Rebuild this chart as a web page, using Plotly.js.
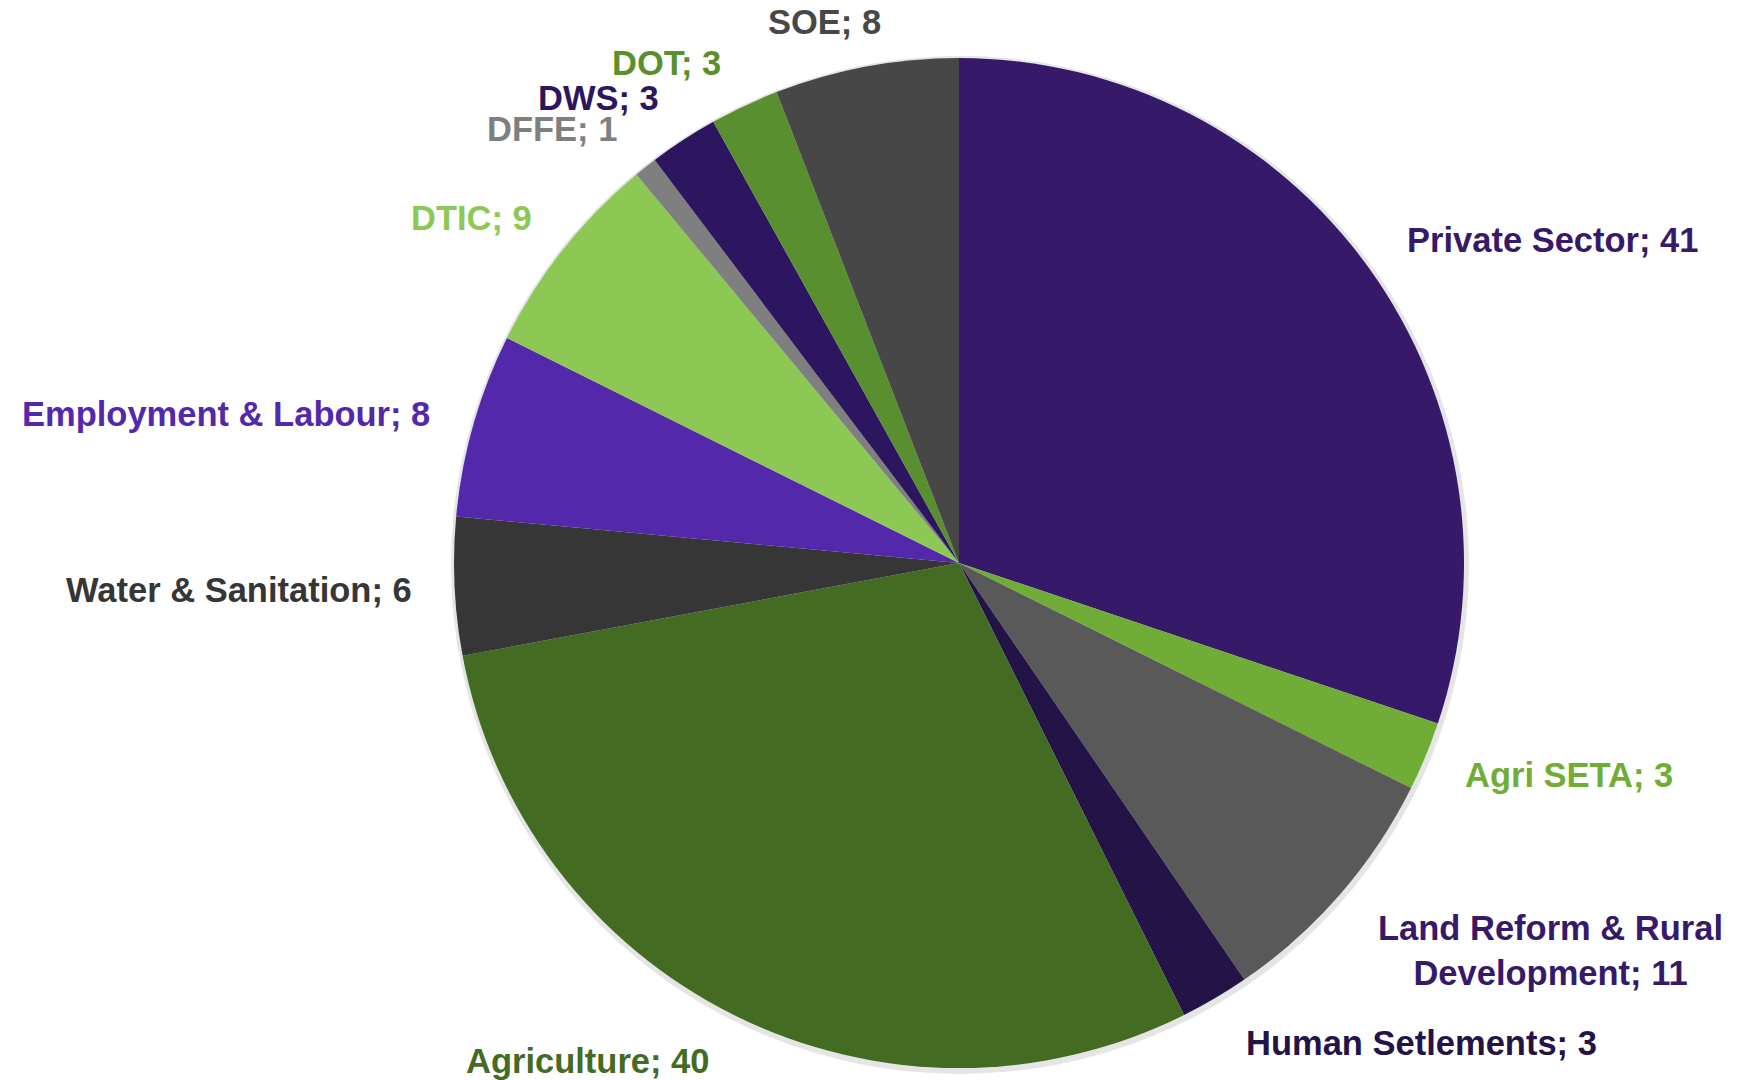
<!DOCTYPE html>
<html>
<head>
<meta charset="utf-8">
<script src="https://cdn.plot.ly/plotly-3.0.1.min.js"></script>
<style>html,body{margin:0;padding:0;background:#fff;}#chart{width:1742px;height:1080px;}</style>
</head>
<body>
<div id="chart"></div>
<script>
// Data
const categories = ["Private Sector", "Agri SETA", "Land Reform & Rural Development", "Human Setlements", "Agriculture", "Water & Sanitation", "Employment & Labour", "DTIC", "DFFE", "DWS", "DOT", "SOE"];
const values = [41, 3, 11, 3, 40, 6, 8, 9, 1, 3, 3, 8];
const labelTexts = ["Private Sector; 41", "Agri SETA; 3", "Land Reform & Rural<br>Development; 11", "Human Setlements; 3", "Agriculture; 40", "Water & Sanitation; 6", "Employment & Labour; 8", "DTIC; 9", "DFFE; 1", "DWS; 3", "DOT; 3", "SOE; 8"];

// Styles
const sliceColors = ["#371969", "#6FAD36", "#595959", "#231347", "#446B22", "#363636", "#5428AB", "#8DC855", "#7F7F7F", "#2C1660", "#5A8F2F", "#474747"];
const labelColors = ["#371969", "#6FAD36", "#371969", "#231347", "#446B22", "#363636", "#5428AB", "#8DC855", "#7F7F7F", "#2C1660", "#5A8F2F", "#474747"];
// label centers in pixels (layout only)
const labelPx = [[1552, 240], [1569, 775], [1550, 950], [1421, 1043], [587, 1061], [239, 590], [226, 414], [471, 218], [552, 129], [598, 98], [666, 63], [824, 22]];

const W = 1742, H = 1080;
const cx = 959, cy = 563, R = 505;

const trace = {
  type: 'pie',
  labels: categories,
  values: values,
  sort: false,
  direction: 'clockwise',
  rotation: 0,
  textinfo: 'none',
  hoverinfo: 'label+value',
  marker: {colors: sliceColors, line: {width: 0}},
  domain: {x: [(cx - R) / W, (cx + R) / W], y: [(H - cy - R) / H, (H - cy + R) / H]},
  showlegend: false
};

const shadow = {
  type: 'pie',
  values: [1],
  labels: ['shadow'],
  sort: false,
  textinfo: 'none',
  hoverinfo: 'skip',
  marker: {colors: ['rgba(0,0,0,0.10)'], line: {width: 0}},
  domain: {x: [(cx - R - 3) / W, (cx + R + 5) / W], y: [(H - cy - R - 6) / H, (H - cy + R + 2) / H]},
  showlegend: false
};

const annotations = labelTexts.map((t, i) => ({
  text: '<b>' + t + '</b>',
  x: labelPx[i][0] / W,
  y: 1 - labelPx[i][1] / H,
  xref: 'paper', yref: 'paper',
  xanchor: 'center', yanchor: 'middle',
  align: 'center',
  showarrow: false,
  font: {family: 'Liberation Sans, Arial, sans-serif', size: 34.5, color: labelColors[i]}
}));

const layout = {
  width: W, height: H,
  margin: {l: 0, r: 0, t: 0, b: 0},
  paper_bgcolor: '#ffffff',
  plot_bgcolor: '#ffffff',
  annotations: annotations,
  showlegend: false
};

Plotly.newPlot('chart', [shadow, trace], layout, {displayModeBar: false, staticPlot: true});
</script>
</body>
</html>
